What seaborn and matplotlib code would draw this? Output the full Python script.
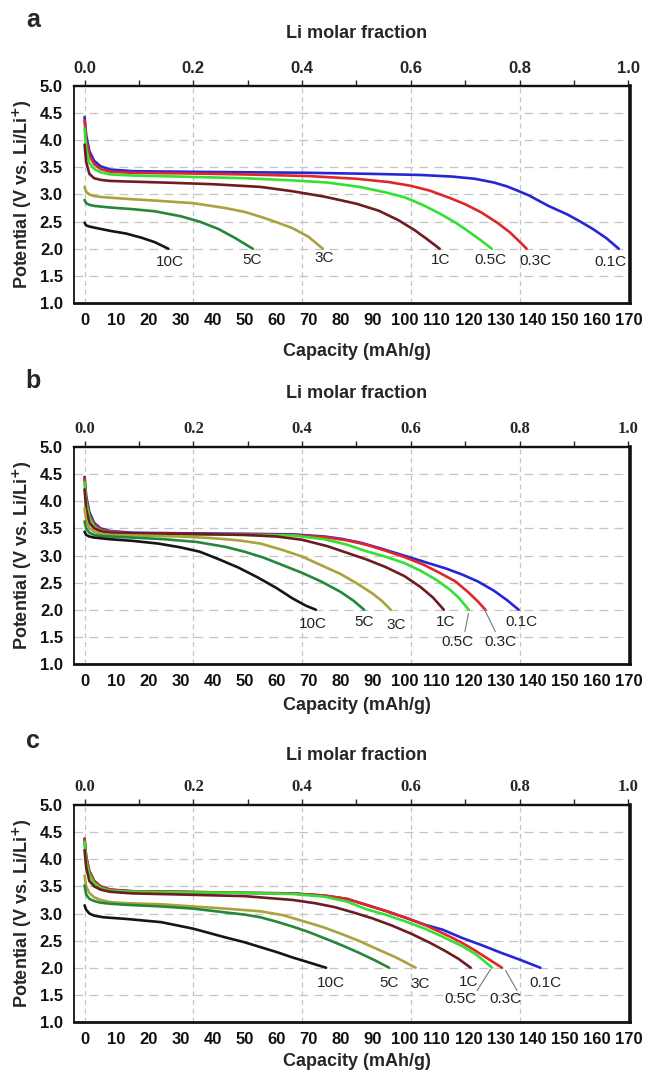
import numpy as np
import pandas as pd
import matplotlib.pyplot as plt
import seaborn as sns

# rates and colours (same order in every panel)
rates = ["0.1C", "0.3C", "0.5C", "1C", "3C", "5C", "10C"]
colors = ["#2626d6", "#e02626", "#33e033", "#6e1c20", "#aaa23c", "#25873a", "#151515"]

# ---- panel a ----
cap_a = [
    [0, 0.5, 1.5, 3, 5, 8, 15, 30, 50, 70, 90, 105, 115, 122, 128, 132, 135, 139, 145, 151, 155, 159, 163, 167],
    [0, 0.5, 1.5, 3, 5, 8, 15, 30, 50, 70, 85, 95, 102, 108, 114, 119, 124, 129, 133, 136, 138.2],
    [0, 0.5, 1.5, 3, 5, 8, 15, 30, 50, 65, 76, 86, 94, 100, 106, 111, 116, 120, 124, 127.3],
    [0, 0.5, 1.5, 3, 5, 8, 13, 25, 40, 55, 65, 75, 85, 92, 98, 103, 107, 111],
    [0, 0.5, 1.5, 3, 6, 13, 24, 34, 44, 50, 55, 60, 65, 70, 74.5],
    [0, 0.5, 1.5, 3, 8, 15, 22, 30, 36, 42, 47, 52.6],
    [0, 0.5, 1.5, 3, 8, 13, 18, 22, 26.2],
]
volt_a = [
    [4.43, 4.1, 3.8, 3.62, 3.52, 3.46, 3.43, 3.42, 3.41, 3.40, 3.38, 3.36, 3.33, 3.29, 3.22, 3.15, 3.08, 2.98, 2.79, 2.63, 2.50, 2.36, 2.20, 2.0],
    [4.37, 4.0, 3.72, 3.56, 3.47, 3.42, 3.40, 3.39, 3.37, 3.34, 3.29, 3.23, 3.16, 3.07, 2.94, 2.82, 2.67, 2.48, 2.30, 2.13, 2.0],
    [4.22, 3.85, 3.58, 3.47, 3.41, 3.37, 3.35, 3.33, 3.30, 3.26, 3.22, 3.14, 3.04, 2.95, 2.80, 2.65, 2.48, 2.32, 2.15, 2.0],
    [3.92, 3.6, 3.38, 3.30, 3.27, 3.25, 3.24, 3.22, 3.19, 3.14, 3.06, 2.96, 2.83, 2.70, 2.53, 2.35, 2.18, 2.0],
    [3.14, 3.05, 3.0, 2.97, 2.95, 2.92, 2.88, 2.84, 2.75, 2.68, 2.59, 2.49, 2.38, 2.22, 2.0],
    [2.9, 2.84, 2.81, 2.79, 2.76, 2.73, 2.69, 2.6, 2.5, 2.36, 2.2, 2.0],
    [2.48, 2.43, 2.41, 2.39, 2.33, 2.28, 2.2, 2.12, 2.0],
]
labx_a = [164.3, 140.9, 126.9, 111.3, 74.9, 52.4, 26.6]
laby_a = [1.76, 1.78, 1.79, 1.79, 1.83, 1.79, 1.76]

# ---- panel b ----
cap_b = [
    [0, 0.5, 1.5, 3, 5, 8, 15, 30, 50, 65, 75, 80, 86, 92, 97, 102, 108, 113, 118, 123, 128, 132, 135.7],
    [0, 0.5, 1.5, 3, 5, 8, 15, 30, 50, 65, 75, 82, 88, 94, 100, 106, 111, 116, 120, 123, 125.3],
    [0, 0.5, 1.5, 3, 5, 8, 15, 30, 50, 65, 75, 82, 88, 94, 100, 105, 110, 114, 117, 120.1],
    [0, 0.5, 1.5, 3, 5, 8, 15, 30, 50, 60, 68, 76, 82, 88, 94, 100, 105, 109, 112.3],
    [0, 0.5, 1.5, 3, 5, 8, 15, 30, 40, 48, 55, 62, 68, 74, 80, 85, 90, 93, 95.7],
    [0, 0.5, 1.5, 3, 5, 8, 15, 25, 35, 44, 50, 56, 62, 68, 74, 80, 84, 87.4],
    [0, 0.5, 1.5, 3, 8, 15, 23, 30, 36, 42, 48, 54, 60, 65, 69, 72.3],
]
volt_b = [
    [4.45, 4.1, 3.8, 3.6, 3.5, 3.45, 3.42, 3.41, 3.40, 3.39, 3.35, 3.31, 3.24, 3.14, 3.05, 2.96, 2.85, 2.76, 2.65, 2.52, 2.35, 2.18, 2.0],
    [4.42, 4.05, 3.75, 3.57, 3.48, 3.44, 3.41, 3.40, 3.39, 3.38, 3.34, 3.28, 3.20, 3.09, 2.97, 2.83, 2.68, 2.52, 2.32, 2.15, 2.0],
    [4.35, 3.98, 3.7, 3.53, 3.46, 3.42, 3.40, 3.39, 3.38, 3.37, 3.30, 3.20, 3.08, 2.98, 2.86, 2.72, 2.55, 2.38, 2.22, 2.0],
    [4.22, 3.85, 3.6, 3.5, 3.45, 3.42, 3.41, 3.40, 3.38, 3.35, 3.29, 3.17, 3.05, 2.93, 2.79, 2.62, 2.42, 2.22, 2.0],
    [3.87, 3.65, 3.5, 3.44, 3.40, 3.38, 3.37, 3.35, 3.32, 3.28, 3.22, 3.10, 2.98, 2.82, 2.66, 2.49, 2.30, 2.16, 2.0],
    [3.63, 3.5, 3.42, 3.38, 3.36, 3.35, 3.33, 3.30, 3.25, 3.16, 3.07, 2.96, 2.82, 2.68, 2.52, 2.33, 2.17, 2.0],
    [3.44, 3.38, 3.35, 3.33, 3.30, 3.27, 3.22, 3.15, 3.07, 2.93, 2.78, 2.60, 2.40, 2.21, 2.08, 2.0],
]
labx_b = [136.7, 130.0, 116.5, 112.9, 97.3, 87.4, 71.3]
laby_b = [1.78, 1.41, 1.41, 1.77, 1.72, 1.77, 1.74]
lead_b = [(120.0, 1.93, 118.9, 1.60), (125.3, 1.97, 128.4, 1.60)]

# ---- panel c ----
cap_c = [
    [0, 0.5, 1.5, 3, 5, 8, 15, 30, 50, 65, 75, 82, 88, 94, 100, 106, 112, 118, 124, 130, 136, 142.5],
    [0, 0.5, 1.5, 3, 5, 8, 15, 30, 50, 65, 75, 82, 88, 94, 100, 106, 110, 114, 118, 122, 126, 130.5],
    [0, 0.5, 1.5, 3, 5, 8, 15, 30, 50, 65, 75, 82, 88, 94, 100, 106, 112, 118, 122, 125, 127.4],
    [0, 0.5, 1.5, 3, 5, 8, 15, 30, 50, 65, 72, 78, 84, 90, 96, 102, 108, 113, 117, 120.7],
    [0, 0.5, 1.5, 3, 5, 8, 13, 24, 34, 44, 55, 62, 66, 70, 75, 80, 86, 92, 97, 100, 103.5],
    [0, 0.5, 1.5, 3, 5, 8, 13, 24, 34, 44, 50, 55, 60, 65, 70, 76, 81, 86, 91, 95.2],
    [0, 0.5, 1.5, 3, 6, 13, 24, 34, 44, 50, 55, 60, 65, 70, 75.5],
]
volt_c = [
    [4.38, 4.05, 3.78, 3.6, 3.5, 3.44, 3.41, 3.40, 3.38, 3.37, 3.33, 3.27, 3.16, 3.05, 2.93, 2.80, 2.70, 2.55, 2.42, 2.28, 2.15, 2.0],
    [4.38, 4.05, 3.78, 3.6, 3.5, 3.44, 3.41, 3.40, 3.38, 3.37, 3.33, 3.27, 3.16, 3.05, 2.93, 2.80, 2.69, 2.58, 2.46, 2.32, 2.17, 2.0],
    [4.32, 3.98, 3.72, 3.56, 3.47, 3.42, 3.40, 3.39, 3.38, 3.36, 3.31, 3.22, 3.08, 2.98, 2.86, 2.73, 2.57, 2.40, 2.26, 2.12, 2.0],
    [4.17, 3.85, 3.6, 3.5, 3.44, 3.40, 3.37, 3.35, 3.32, 3.25, 3.19, 3.12, 3.02, 2.91, 2.78, 2.63, 2.46, 2.30, 2.16, 2.0],
    [3.70, 3.5, 3.38, 3.30, 3.25, 3.21, 3.19, 3.17, 3.13, 3.09, 3.04, 2.97, 2.90, 2.83, 2.74, 2.63, 2.49, 2.33, 2.20, 2.11, 2.0],
    [3.52, 3.35, 3.27, 3.23, 3.20, 3.18, 3.16, 3.13, 3.09, 3.02, 2.98, 2.93, 2.85, 2.76, 2.66, 2.52, 2.40, 2.27, 2.13, 2.0],
    [3.15, 3.07, 3.0, 2.96, 2.93, 2.90, 2.84, 2.72, 2.56, 2.47, 2.38, 2.29, 2.19, 2.10, 2.0],
]
labx_c = [144.0, 131.6, 117.5, 120.1, 104.8, 95.2, 77.0]
laby_c = [1.72, 1.42, 1.43, 1.74, 1.70, 1.71, 1.72]
lead_c = [(126.9, 1.97, 122.7, 1.58), (131.6, 1.95, 135.2, 1.58)]

cap_ticks = np.arange(0, 171, 10)
v_ticks = np.arange(1.0, 5.01, 0.5)
frac_ticks = np.arange(0, 1.01, 0.2)
frac_grid = [0.0, 0.2, 0.4, 0.6, 0.8]

sns.set_style("white")
plt.rcParams['font.family'] = ['Liberation Sans', 'DejaVu Sans']

W, H = 646, 1081
fig = plt.figure(figsize=(W / 100, H / 100), dpi=100)


def panel(top_px, caps, volts, labx, laby, letter, top_family, leads, caplab_px, li_px, letter_px):
    bot_px = top_px + 217
    ax = fig.add_axes([74 / W, 1 - bot_px / H, 556 / W, 217 / H])
    rows = []
    for r, cs, vs in zip(rates, caps, volts):
        for c, v in zip(cs, vs):
            rows.append((r, c, v))
    df = pd.DataFrame(rows, columns=["rate", "cap", "V"])

    # dashed grid
    for y in v_ticks[1:-1]:
        ax.axhline(y, color="#c4c4c4", lw=0.9, ls=(0, (7, 5)), zorder=0)
    for f in frac_grid:
        ax.axvline(f * 170, color="#c4c4c4", lw=0.9, ls=(0, (4, 3)), zorder=0)

    sns.lineplot(data=df, x="cap", y="V", hue="rate", hue_order=rates, palette=colors,
                 sort=False, estimator=None, legend=False, lw=1.9, ax=ax)

    for t, x, y in zip(rates, labx, laby):
        ax.text(x, y, t, ha="center", va="center", fontsize=11, color="#222222")
    for x0, y0, x1, y1 in leads:
        ax.plot([x0, x1], [y0, y1], color="#777777", lw=0.8)

    ax.set_xlim(-3.3, 170.5)
    ax.set_ylim(1, 5)
    ax.set_xticks(cap_ticks)
    ax.set_xticklabels([str(c) for c in cap_ticks], fontweight="bold", fontsize=12)
    ax.set_yticks(v_ticks)
    ax.set_yticklabels([f"{v:.1f}" for v in v_ticks], fontweight="bold", fontsize=12)
    ax.tick_params(axis="x", direction="in", length=4, width=1, pad=7, colors="#111111")
    ax.tick_params(axis="y", direction="in", length=4, width=1, pad=8, colors="#111111")
    ax.set_xlabel("")
    ax.set_ylabel("")
    for s, w in zip(["left", "bottom", "top", "right"], [1.3, 2.0, 1.6, 2.6]):
        ax.spines[s].set_visible(True)
        ax.spines[s].set_linewidth(w)
        ax.spines[s].set_color("#111111")

    sec = ax.secondary_xaxis("top", functions=(lambda c: c / 170, lambda f: f * 170))
    sec.set_xticks(frac_ticks)
    sec.set_xticks(np.arange(0.1, 1.0, 0.2), minor=True)
    sec.set_xticklabels([f"{f:.1f}" for f in frac_ticks], fontweight="bold", fontsize=12,
                        family=top_family)
    sec.tick_params(which="both", direction="out", length=4, width=1, pad=3)
    sec.spines["top"].set_linewidth(1.6)

    fig.text(357 / W, 1 - caplab_px / H, "Capacity (mAh/g)", ha="center", va="center",
             fontsize=13, fontweight="bold")
    fig.text(357 / W, 1 - li_px / H, "Li molar fraction", ha="center", va="center",
             fontsize=13, fontweight="bold")
    fig.text(33 / W, 1 - letter_px / H, letter, ha="center", va="center",
             fontsize=18, fontweight="bold")
    fig.text(22 / W, 1 - (top_px + 108) / H, "Potential (V vs. Li/Li$^{\\mathbf{+}}$)",
             rotation=90, ha="center", va="center", fontsize=13, fontweight="bold")
    return ax


panel(86, cap_a, volt_a, labx_a, laby_a, "a", ["Liberation Sans", "DejaVu Sans"], [], 351, 33, 20)
panel(447, cap_b, volt_b, labx_b, laby_b, "b", ["Liberation Serif", "DejaVu Serif"], lead_b, 705, 394, 381)
panel(805, cap_c, volt_c, labx_c, laby_c, "c", ["Liberation Serif", "DejaVu Serif"], lead_c, 1061, 755, 741)

fig.savefig("out.png", dpi=100)
